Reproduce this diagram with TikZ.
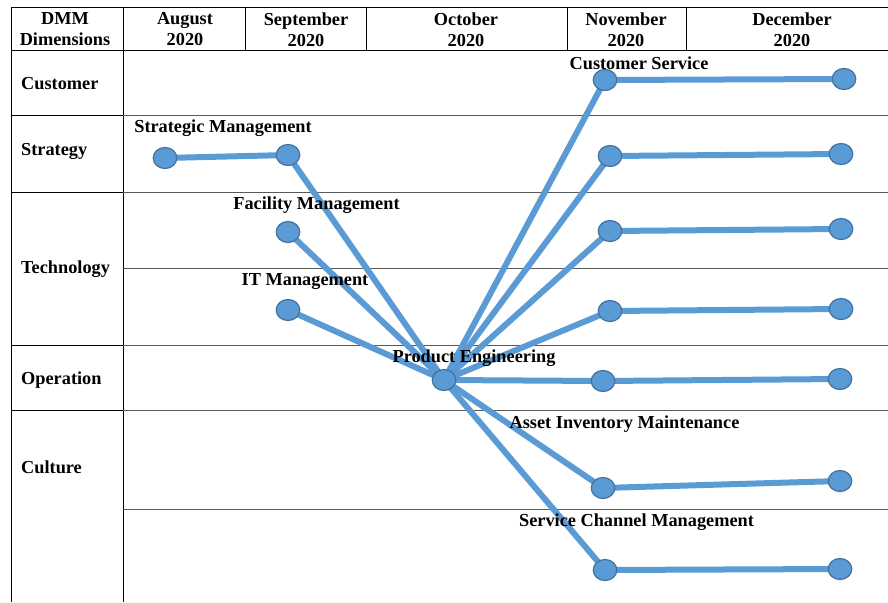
\documentclass[tikz,border=0pt]{standalone}
\usepackage{fontspec}
\setmainfont{Liberation Serif}
\usetikzlibrary{shapes.geometric}
\pgfdeclarelayer{bg}
\pgfdeclarelayer{mid}
\pgfsetlayers{bg,mid,main}
\definecolor{dotfill}{HTML}{5B9BD5}
\definecolor{dotedge}{HTML}{41719C}
\begin{document}
\begin{tikzpicture}[x=1pt,y=-1pt,
  dot/.style={ellipse,draw=dotedge,line width=1.2pt,fill=dotfill,minimum width=23.5pt,minimum height=21pt,inner sep=0pt},
  link/.style={draw=dotfill,line width=6pt},
  lbl/.style={font=\fontsize{18.3}{21}\selectfont\bfseries,inner sep=0pt},
  hdr/.style={lbl,align=center},
  rowlbl/.style={lbl,anchor=west},
  tline/.style={line width=0.9pt,black},
  gline/.style={line width=0.9pt,black!65}]
\useasboundingbox (0,0) rectangle (888,602);
\begin{pgfonlayer}{bg}
\fill[white] (0,0) rectangle (888,602);
% table frame
\draw[tline] (11,7) -- (11,602);
\draw[tline] (123,7) -- (123,602);
\draw[tline] (11,7) -- (888,7);
\draw[tline] (11,50) -- (888,50);
\foreach \x in {245,366,567,686} \draw[tline] (\x,7) -- (\x,50);
\foreach \y in {115,192,345,410} {\draw[tline] (11,\y) -- (123,\y); \draw[gline] (123,\y) -- (888,\y);}
\foreach \y in {268.5,509} \draw[gline] (123,\y) -- (888,\y);
\end{pgfonlayer}
% header
\node[hdr] (h0) at (65,29.5) {DMM\\Dimensions};
\node[hdr] (h1) at (185,29.5) {August\\2020};
\node[hdr] (h2) at (306,29.5) {September\\2020};
\node[hdr] (h3) at (466,29.5) {October\\2020};
\node[hdr] (h4) at (626,29.5) {November\\2020};
\node[hdr] (h5) at (792,29.5) {December\\2020};
% row labels
\node[rowlbl] (r1) at (21,84) {Customer};
\node[rowlbl] (r2) at (21,151) {Strategy};
\node[rowlbl] (r3) at (21,269) {Technology};
\node[rowlbl] (r4) at (21,380) {Operation};
\node[rowlbl] (r5) at (21,467) {Culture};
% dots
\node[dot] (sm1) at (165,158) {};
\node[dot] (sm2) at (288,155) {};
\node[dot] (fm) at (288,232) {};
\node[dot] (it) at (288,310) {};
\node[dot] (pe) at (444,380) {};
\node[dot] (cs1) at (605,80) {};
\node[dot] (cs2) at (844,79) {};
\node[dot] (st1) at (610,156) {};
\node[dot] (st2) at (841,154) {};
\node[dot] (ta1) at (610,231) {};
\node[dot] (ta2) at (841,229) {};
\node[dot] (tb1) at (610,311) {};
\node[dot] (tb2) at (841,309) {};
\node[dot] (op1) at (603,381) {};
\node[dot] (op2) at (840,379) {};
\node[dot] (ai1) at (603,488) {};
\node[dot] (ai2) at (840,481) {};
\node[dot] (sc1) at (605,570) {};
\node[dot] (sc2) at (840,569) {};
% connectors
\begin{pgfonlayer}{mid}
\draw[link] (sm1.center) -- (sm2.center) -- (pe.center);
\draw[link] (fm.center) -- (pe.center);
\draw[link] (it.center) -- (pe.center);
\foreach \a/\b in {cs1/cs2,st1/st2,ta1/ta2,tb1/tb2,op1/op2,ai1/ai2,sc1/sc2} {
  \draw[link] (pe.center) -- (\a.center) -- (\b.center);
}
\end{pgfonlayer}
% labels
\node[lbl] (lsm) at (223,128) {Strategic Management};
\node[lbl] (lfm) at (316.5,205) {Facility Management};
\node[lbl] (lit) at (305,282) {IT Management};
\node[lbl] (lpe) at (474,358) {Product Engineering};
\node[lbl] (lcs) at (639,63) {Customer Service};
\node[lbl] (lai) at (624.5,424) {Asset Inventory Maintenance};
\node[lbl] (lsc) at (636.5,522) {Service Channel Management};
\end{tikzpicture}
\end{document}
